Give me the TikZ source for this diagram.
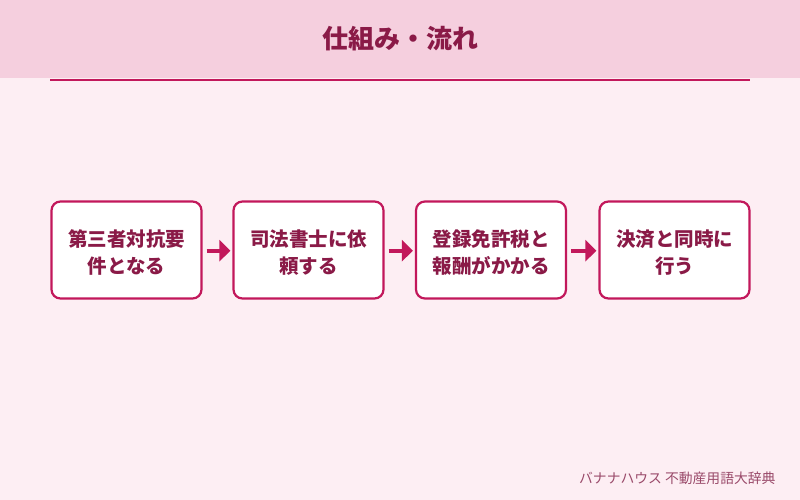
\documentclass[tikz,border=0pt]{standalone}
\usepackage{fontspec}
\setmainfont{Noto Sans CJK JP}
\usetikzlibrary{arrows.meta}
\definecolor{bgpink}{HTML}{FDEEF3}
\definecolor{headpink}{HTML}{F5CFDE}
\definecolor{accent}{HTML}{C2185B}
\definecolor{darktext}{HTML}{8A1A47}
\definecolor{foottext}{HTML}{9A4A6A}
\tikzset{
  stepbox/.style={draw=accent, line width=2.2pt, fill=white, rounded corners=9pt,
    minimum width=150pt, minimum height=97pt, inner sep=0pt},
  steptext/.style={text=darktext, font=\bfseries\fontsize{19.5pt}{27pt}\selectfont,
    align=center, yshift=-2.5pt, inner sep=0pt},
  flowarrow/.style={draw=accent, line width=4pt, -{Triangle[length=11pt,width=21pt]}}
}
\begin{document}
\begin{tikzpicture}[x=1pt,y=1pt]
\useasboundingbox (0,0) rectangle (800,-500);
\fill[bgpink] (0,0) rectangle (800,-500);
\fill[headpink] (0,0) rectangle (800,-78);
\draw[accent, line width=2pt] (50,-80) -- (750,-80);
\node[text=darktext, font=\bfseries\fontsize{26pt}{30pt}\selectfont] (title) at (400,-38.5) {仕組み・流れ};
\node[stepbox, label={[steptext]center:{第三者対抗要\\件となる}}] (s1) at (126.5,-250) {};
\node[stepbox, label={[steptext]center:{司法書士に依\\頼する}}] (s2) at (308.5,-250) {};
\node[stepbox, label={[steptext]center:{登録免許税と\\報酬がかかる}}] (s3) at (491,-250) {};
\node[stepbox, label={[steptext]center:{決済と同時に\\行う}}] (s4) at (674.5,-250) {};
\path (s1.east) ++(4,-0.7) coordinate (a1s) (s2.west) ++(-2,-0.7) coordinate (a1e);
\draw[flowarrow] (a1s) -- (a1e);
\path (s2.east) ++(4,-0.7) coordinate (a2s) (s3.west) ++(-2,-0.7) coordinate (a2e);
\draw[flowarrow] (a2s) -- (a2e);
\path (s3.east) ++(4,-0.7) coordinate (a3s) (s4.west) ++(-2,-0.7) coordinate (a3e);
\draw[flowarrow] (a3s) -- (a3e);
\node[anchor=east, text=foottext, font=\fontsize{13.8pt}{16pt}\selectfont] (foot) at (779,-478) {バナナハウス 不動産用語大辞典};
\end{tikzpicture}
\end{document}
